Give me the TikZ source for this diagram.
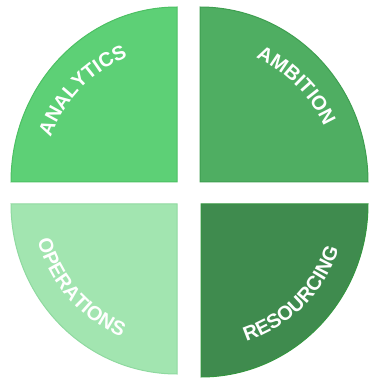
\documentclass[tikz,border=0pt]{standalone}
\usepackage{fontspec}
\setmainfont{Liberation Sans}
\usetikzlibrary{decorations.text}
\definecolor{fTL}{HTML}{5DD076}
\definecolor{dTL}{HTML}{4CC063}
\definecolor{fTR}{HTML}{4FAE62}
\definecolor{dTR}{HTML}{3E9E50}
\definecolor{fBL}{HTML}{A2E5B0}
\definecolor{dBL}{HTML}{8FD9A0}
\definecolor{fBR}{HTML}{3F8B4E}
\definecolor{dBR}{HTML}{34953F}
\newcommand\segfont{\bfseries\fontsize{20}{24}\selectfont\color{white}}
\tikzset{
  seg/.style={line width=1pt},
}
\begin{document}
\begin{tikzpicture}[x=1pt,y=1pt]
\useasboundingbox (0,0) rectangle (370,378);
\coordinate (tl) at (177,196);
\coordinate (tr) at (200,196);
\coordinate (bl) at (177,174);
\coordinate (br) at (201,174);
% sectors
\filldraw[seg,fill=fTL,draw=dTL] (tl) -- ++(-166,0) arc[start angle=180,end angle=90,x radius=166,y radius=175] -- cycle;
\filldraw[seg,fill=fTR,draw=dTR] (tr) -- ++(0,175) arc[start angle=90,end angle=0,x radius=168,y radius=175] -- cycle;
\filldraw[seg,fill=fBL,draw=dBL] (bl) -- ++(-166,0) arc[start angle=180,end angle=270,x radius=166,y radius=170] -- cycle;
\filldraw[seg,fill=fBR,draw=dBR] (br) -- ++(0,-173) arc[start angle=270,end angle=360,x radius=167,y radius=173] -- cycle;
% labels
\path[decorate,decoration={text along path,text align=center,text={|\segfont|ANALYTICS}}]
  (tl) ++(181:134) arc[start angle=181,end angle=91,radius=134];
\path[decorate,decoration={text along path,text align=center,text={|\segfont|AMBITION}}]
  (tr) ++(90:136) arc[start angle=90,end angle=0,radius=136];
\path[decorate,decoration={text along path,text align=center,text={|\segfont|OPERATIONS}}]
  (bl) ++(176:144) arc[start angle=176,end angle=266,radius=144];
\path[decorate,decoration={text along path,text align=center,text={|\segfont|RESOURCING}}]
  (br) ++(270:145) arc[start angle=270,end angle=360,radius=145];
\end{tikzpicture}
\end{document}
